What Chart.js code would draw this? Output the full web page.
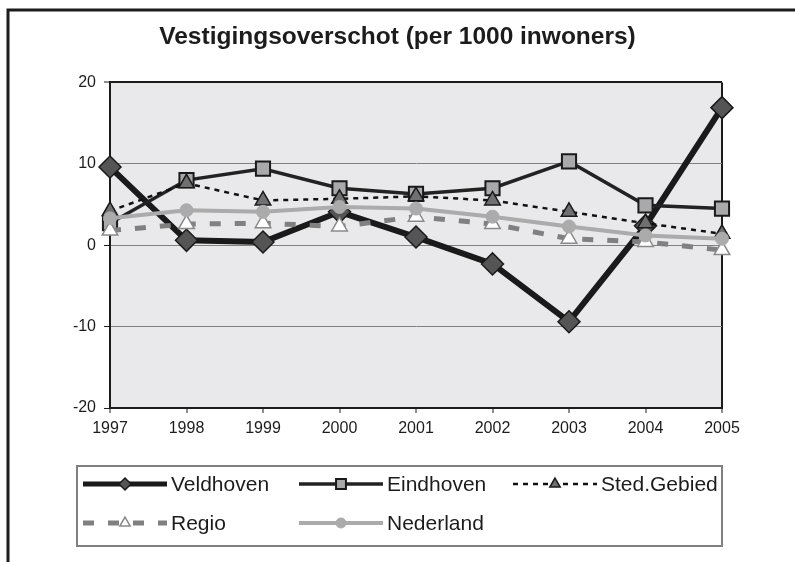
<!DOCTYPE html>
<html>
<head>
<meta charset="utf-8">
<script src="https://cdn.jsdelivr.net/npm/chart.js@4/dist/chart.umd.min.js"></script>
<style>
  html, body { margin: 0; padding: 0; background: #fff; }
  #wrap { width: 795px; height: 562px; }
</style>
</head>
<body>
<div id="wrap"><canvas id="chart" width="795" height="562"></canvas></div>
<script>
// data
const years = ['1997', '1998', '1999', '2000', '2001', '2002', '2003', '2004', '2005'];
const veldhoven = [9.6, 0.6, 0.4, 4.1, 1.0, -2.3, -9.4, 2.4, 16.9];
const eindhoven = [2.7, 8.0, 9.4, 7.0, 6.3, 7.0, 10.3, 4.9, 4.5];
const stedGebied = [4.2, 7.6, 5.5, 5.7, 6.0, 5.5, 4.1, 2.7, 1.4];
const regio = [1.8, 2.6, 2.7, 2.3, 3.5, 2.6, 0.8, 0.4, -0.6];
const nederland = [3.3, 4.3, 4.1, 4.7, 4.5, 3.5, 2.3, 1.2, 0.8];
const yTicks = [-20, -10, 0, 10, 20];

const FONT = '"Liberation Sans", Arial, sans-serif';
const INK = '#1c1c1c';

// plot background + the frame lines round the picture
const framePlugin = {
    id: 'frame',
    beforeDraw(chart) {
        const { ctx, chartArea: a } = chart;
        ctx.save();
        ctx.fillStyle = '#fff';
        ctx.fillRect(0, 0, chart.width, chart.height);
        ctx.fillStyle = '#e9e9eb';
        ctx.fillRect(a.left, a.top, a.right - a.left, a.bottom - a.top);
        ctx.strokeStyle = INK;
        ctx.lineWidth = 3;
        ctx.beginPath();
        ctx.moveTo(8, chart.height);
        ctx.lineTo(8, 10);
        ctx.lineTo(chart.width, 10);
        ctx.stroke();
        ctx.restore();
    }
};

// legend in a box, line + marker per series like the original
const legendBox = {
    id: 'legendBox',
    afterDraw(chart) {
        const ctx = chart.ctx;
        const slots = [[83, 484], [299, 484], [513, 484], [83, 523], [299, 523]];
        const markR = [6, 7, 6, 6, 5];
        ctx.save();
        ctx.strokeStyle = '#808080';
        ctx.lineWidth = 2;
        ctx.strokeRect(77, 466, 645, 80);
        chart.data.datasets.forEach((ds, i) => {
            const [x, y] = slots[i];
            const len = 84;
            ctx.save();
            ctx.strokeStyle = ds.borderColor;
            ctx.lineWidth = Math.min(ds.borderWidth, 5);
            ctx.setLineDash(ds.borderDash || []);
            ctx.beginPath();
            ctx.moveTo(x, y);
            ctx.lineTo(x + len, y);
            ctx.stroke();
            ctx.restore();
            ctx.save();
            ctx.fillStyle = ds.pointBackgroundColor;
            ctx.strokeStyle = ds.pointBorderColor;
            ctx.lineWidth = ds.pointBorderWidth;
            Chart.helpers.drawPoint(ctx, {
                pointStyle: ds.pointStyle, radius: markR[i], rotation: 0,
                borderWidth: ds.pointBorderWidth
            }, x + len / 2, y);
            ctx.restore();
            ctx.fillStyle = INK;
            ctx.font = '21px ' + FONT;
            ctx.textBaseline = 'middle';
            ctx.textAlign = 'left';
            ctx.fillText(ds.label, x + len + 4, y + 1);
        });
        ctx.restore();
    }
};

const ctx = document.getElementById('chart').getContext('2d');
new Chart(ctx, {
    type: 'line',
    data: {
        labels: years,
        datasets: [{
            label: 'Veldhoven',
            data: veldhoven,
            borderColor: '#1a1a1a',
            borderWidth: 6,
            pointStyle: 'rectRot',
            pointRadius: 11,
            pointBackgroundColor: '#555555',
            pointBorderColor: '#1a1a1a',
            pointBorderWidth: 1.5,
            order: 5
        }, {
            label: 'Eindhoven',
            data: eindhoven,
            borderColor: '#222222',
            borderWidth: 3.5,
            pointStyle: 'rect',
            pointRadius: 10,
            pointBackgroundColor: '#a9a9ab',
            pointBorderColor: '#1a1a1a',
            pointBorderWidth: 2,
            order: 4
        }, {
            label: 'Sted.Gebied',
            data: stedGebied,
            borderColor: '#111111',
            borderWidth: 2.5,
            borderDash: [5, 5],
            pointStyle: 'triangle',
            pointRadius: 9,
            pointBackgroundColor: '#707070',
            pointBorderColor: '#1a1a1a',
            pointBorderWidth: 1.5,
            order: 3
        }, {
            label: 'Regio',
            data: regio,
            borderColor: '#808080',
            borderWidth: 5,
            borderDash: [11, 14],
            pointStyle: 'triangle',
            pointRadius: 9,
            pointBackgroundColor: '#ffffff',
            pointBorderColor: '#8a8a8a',
            pointBorderWidth: 1.5,
            order: 2
        }, {
            label: 'Nederland',
            data: nederland,
            borderColor: '#ababab',
            borderWidth: 4,
            pointStyle: 'circle',
            pointRadius: 6.5,
            pointBackgroundColor: '#ababab',
            pointBorderColor: '#ababab',
            pointBorderWidth: 1,
            order: 1
        }]
    },
    options: {
        responsive: false,
        animation: false,
        events: [],
        layout: { padding: { left: 0, right: 0, top: 0, bottom: 0 } },
        elements: { line: { tension: 0, fill: false } },
        datasets: { line: { clip: false } },
        plugins: {
            legend: { display: false },
            tooltip: { enabled: false },
            title: {
                display: true,
                text: 'Vestigingsoverschot (per 1000 inwoners)',
                color: INK,
                font: { family: FONT, size: 24.5, weight: 'bold', lineHeight: 1.2 },
                padding: { top: 23, bottom: 30 }
            }
        },
        scales: {
            x: {
                type: 'category',
                offset: false,
                afterFit(scale) { scale.height = 154; },
                border: { color: INK, width: 2 },
                grid: {
                    color: (c) => c.index === years.length - 1 ? INK : 'rgba(0,0,0,0)',
                    lineWidth: 2,
                    tickColor: INK,
                    tickWidth: 1,
                    tickLength: 5
                },
                ticks: {
                    color: INK,
                    font: { family: FONT, size: 16 },
                    padding: 6,
                    maxRotation: 0,
                    autoSkip: false
                }
            },
            y: {
                min: -20,
                max: 20,
                afterFit(scale) { scale.width = 110; },
                afterBuildTicks(scale) { scale.ticks = yTicks.map(v => ({ value: v })); },
                border: { color: INK, width: 2 },
                grid: {
                    color: (c) => (c.tick && (c.tick.value === 20 || c.tick.value === -20)) ? INK : '#808080',
                    lineWidth: (c) => (c.tick && c.tick.value === 20) ? 2 : 1,
                    tickColor: INK,
                    tickWidth: 1,
                    tickLength: 6
                },
                ticks: {
                    color: INK,
                    font: { family: FONT, size: 16 },
                    padding: 8
                }
            },
            // empty right-hand axis, only to leave the blank strip right of the plot
            spacer: {
                position: 'right',
                min: -20,
                max: 20,
                afterFit(scale) { scale.width = 73; },
                border: { display: false },
                grid: { display: false, drawTicks: false },
                ticks: { display: false }
            }
        }
    },
    plugins: [framePlugin, legendBox]
});
</script>
</body>
</html>
